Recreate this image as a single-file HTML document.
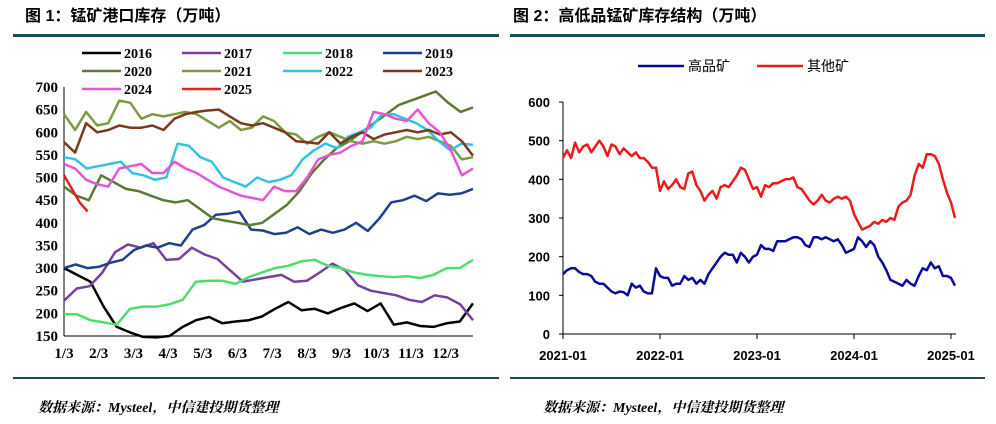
<!DOCTYPE html>
<html><head><meta charset="utf-8">
<style>
body{margin:0;background:#fff;width:996px;height:424px;overflow:hidden;font-family:"Liberation Serif","Noto Serif CJK SC","Noto Sans CJK SC",serif;}
svg{position:absolute;left:0;top:0}
</style></head>
<body>
<svg id="c" width="996" height="424">
<text x="25" y="21" font-size="16" font-weight="bold" font-family="Liberation Sans,Noto Sans CJK SC,sans-serif">图 1：锰矿港口库存（万吨）</text>
<text x="513" y="21" font-size="16" font-weight="bold" font-family="Liberation Sans,Noto Sans CJK SC,sans-serif">图 2：高低品锰矿库存结构（万吨）</text>
<rect x="13" y="34" width="486" height="3" fill="#1d4b5c"/>
<rect x="510" y="34" width="475" height="3" fill="#1d4b5c"/>
<rect x="13" y="377" width="486" height="2" fill="#1d4b5c"/>
<rect x="510" y="377" width="475" height="2" fill="#1d4b5c"/>
<text x="38" y="412" font-size="14" font-style="italic" font-weight="bold">数据来源：Mysteel，中信建投期货整理</text>
<text x="543" y="412" font-size="14" font-style="italic" font-weight="bold">数据来源：Mysteel，中信建投期货整理</text>
<g id="left"></g><g id="right"></g>
</svg>
<script>
// ---- Chart 1 data ----
const yearNames = ["2016","2017","2018","2019","2020","2021","2022","2023","2024","2025"];
const monthLabels = ["1/3","2/3","3/3","4/3","5/3","6/3","7/3","8/3","9/3","10/3","11/3","12/3"];
const yTicks1 = [150,200,250,300,350,400,450,500,550,600,650,700];
const s2016 = [300,285,270,215,170,158,148,147,150,170,185,192,178,182,185,193,210,225,207,210,200,212,222,205,222,175,180,172,170,178,182,222];
const s2017 = [228,255,260,290,335,352,345,355,318,320,345,330,320,295,270,275,280,285,270,272,290,310,295,262,250,245,240,230,225,240,235,220,185];
const s2018 = [198,198,185,180,175,210,215,215,220,230,270,272,272,265,280,290,300,305,315,318,305,300,290,285,282,280,282,278,285,300,300,318];
const s2019 = [300,308,300,303,312,318,340,350,345,355,350,385,395,418,420,425,385,383,375,378,390,375,385,378,385,400,382,410,445,450,460,448,465,462,465,475];
const s2020 = [480,460,450,505,490,475,470,460,450,445,450,430,410,405,400,395,400,420,440,470,510,540,565,580,600,620,640,660,670,680,690,665,645,655];
const s2021 = [640,605,645,615,620,670,665,630,640,635,640,645,640,625,610,625,605,610,635,625,600,595,575,590,600,590,580,575,580,575,580,590,585,590,580,570,540,545];
const s2022 = [545,540,520,525,530,535,510,505,495,500,575,570,545,535,500,490,480,500,490,495,505,540,560,575,565,590,600,610,640,640,630,620,605,580,560,575,572];
const s2023 = [578,555,620,600,605,615,610,610,615,605,630,640,645,648,650,635,620,615,620,610,600,580,578,575,600,575,590,600,585,595,600,605,600,605,595,600,580,548];
const s2024 = [530,520,495,485,480,520,525,530,510,510,535,520,510,495,480,470,460,455,450,480,470,470,500,540,550,555,570,580,645,640,630,625,650,620,600,560,505,520];
const s2025 = [505,475,445,425];
const s2025Weeks = 3;
const series1 = [s2016,s2017,s2018,s2019,s2020,s2021,s2022,s2023,s2024,s2025];
const colors1 = ["#000000","#7540a0","#4fdc6e","#1f3f8f","#5c7a34","#7c9c44","#33c2e6","#7a3a1c","#e655d4","#e02424"];

// ---- Chart 2 data ----
const startYear2 = 2021;
const yTicks2 = [0,100,200,300,400,500,600];
const xTickYears = [2021,2022,2023,2024,2025];
const seriesNames2 = ["高品矿","其他矿"];
const highGrade = [155,165,170,170,160,155,155,150,135,130,130,120,110,105,110,108,100,130,120,125,110,105,105,170,
150,145,145,125,130,130,150,140,145,130,140,130,155,170,185,200,210,205,205,185,210,200,185,200,
205,230,220,220,215,240,240,240,245,250,250,245,230,225,250,250,245,250,245,240,245,230,210,215,
220,250,240,225,240,230,200,185,165,140,135,130,125,140,130,125,150,170,165,185,170,175,150,150,145,125];
const otherGrade = [455,475,455,495,470,485,490,470,485,500,485,460,490,485,465,480,470,460,470,455,455,445,430,430,
370,395,375,385,400,380,375,415,420,385,370,345,360,370,350,380,385,380,395,410,430,425,400,375,
380,355,385,380,390,390,395,400,400,405,380,375,360,345,335,345,360,345,340,350,355,350,355,345,
310,290,270,275,280,290,285,295,290,300,295,330,340,345,360,410,440,430,465,465,460,440,400,365,340,300];
const series2 = [highGrade, otherGrade];
const colors2 = ["#0a0a9a","#e81c1c"];

const NS="http://www.w3.org/2000/svg";
function mk(tag, attrs, parent){const e=document.createElementNS(NS,tag);for(const k in attrs)e.setAttribute(k,attrs[k]);parent.appendChild(e);return e;}
const FONT="Liberation Serif,serif";

// ---- Chart 1 ----
const L=document.getElementById('left');
const x0=64,x1=473,yTop=87,yBot=336;
const y1=v=>yBot-(v-150)/(700-150)*(yBot-yTop);
const xFrac=f=>x0+f*(x1-x0);
const monthX=i=>x0+i*34.7;
let ax=mk('line',{x1:x0,y1:yTop,x2:x0,y2:yBot,stroke:'#000','stroke-width':1},L);


let bx=mk('line',{x1:x0,y1:yBot,x2:x1,y2:yBot,stroke:'#000','stroke-width':1},L);


yTicks1.forEach(v=>{
  const t=mk('text',{x:58,y:y1(v)+5,'text-anchor':'end','font-size':15,'font-weight':'bold','font-family':FONT},L);
  t.textContent=v;
  
  
});
monthLabels.forEach((m,i)=>{
  const t=mk('text',{x:monthX(i),y:358,'text-anchor':'middle','font-size':15,'font-weight':'bold','font-family':FONT},L);
  t.textContent=m;
  
  
});
series1.forEach((s,k)=>{
  const n=s.length;
  const pts=s.map((v,i)=>{
    const f = (k===9) ? (i/(n-1))*s2025Weeks/52 : i/(n-1);
    return xFrac(f).toFixed(1)+','+y1(v).toFixed(1);
  }).join(' ');
  const p=mk('polyline',{points:pts,fill:'none',stroke:colors1[k],'stroke-width':2.5,'stroke-linejoin':'round'},L);
  
  
});
yearNames.forEach((nm,k)=>{
  const col=k%4,row=Math.floor(k/4);
  const lx=[82,182,283,383][col],ly=53+row*18;
  const ln=mk('line',{x1:lx,y1:ly,x2:lx+39,y2:ly,stroke:colors1[k],'stroke-width':2.5},L);
  
  
  const t=mk('text',{x:lx+42,y:ly+5,'font-size':14,'font-weight':'bold','font-family':FONT},L);
  t.textContent=nm;
  
  
});

// ---- Chart 2 ----
const R=document.getElementById('right');
const rx0=563,rx1=951,ry0=334,ry1=102;
const xr=yr=>rx0+(yr-2021)/4*(rx1-rx0);
const yr2=v=>ry0-v/600*(ry0-ry1);
let ay=mk('line',{x1:rx0,y1:ry1,x2:rx0,y2:ry0,stroke:'#000','stroke-width':1},R);


let axx=mk('line',{x1:rx0,y1:ry0,x2:956,y2:ry0,stroke:'#000','stroke-width':1},R);


yTicks2.forEach(v=>{
  const tk=mk('line',{x1:rx0-4,y1:yr2(v),x2:rx0,y2:yr2(v),stroke:'#000'},R);
  
  
  const t=mk('text',{x:550,y:yr2(v)+5,'text-anchor':'end','font-size':13,'font-weight':'bold','font-family':'Liberation Sans,sans-serif'},R);
  t.textContent=v;
  
  
});
xTickYears.forEach(yv=>{
  const tk=mk('line',{x1:xr(yv),y1:ry0,x2:xr(yv),y2:ry0+5,stroke:'#000'},R);
  
  
  const t=mk('text',{x:xr(yv),y:360,'text-anchor':'middle','font-size':13,'font-weight':'bold','font-family':'Liberation Sans,sans-serif'},R);
  t.textContent=yv+'-01';
  
  
});
series2.forEach((s,k)=>{
  const pts=s.map((v,i)=>xr(startYear2+i/24).toFixed(1)+','+yr2(v).toFixed(1)).join(' ');
  const p=mk('polyline',{points:pts,fill:'none',stroke:colors2[k],'stroke-width':2.5,'stroke-linejoin':'round'},R);
  
  
});
seriesNames2.forEach((nm,k)=>{
  const lx=[638,757][k];
  const ln=mk('line',{x1:lx,y1:66,x2:lx+46,y2:66,stroke:colors2[k],'stroke-width':2.5},R);
  
  
  const t=mk('text',{x:lx+50,y:71,'font-size':14,'font-family':'Noto Sans CJK SC,sans-serif'},R);
  t.textContent=nm;
  
  
});
</script>
</body></html>
